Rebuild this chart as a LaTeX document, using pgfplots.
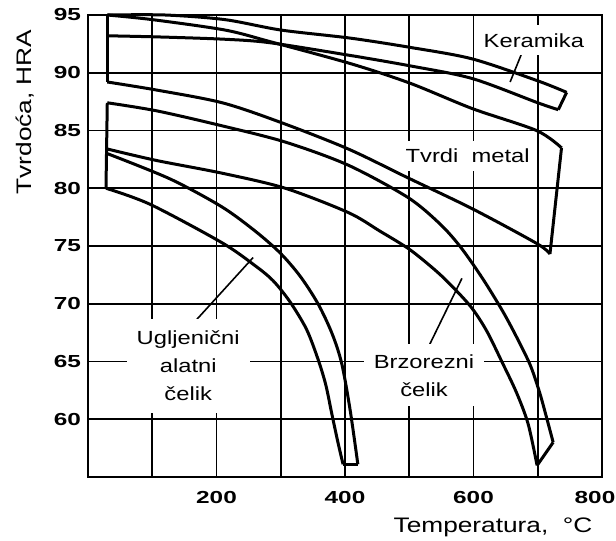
\documentclass[border=0pt]{standalone}
\usepackage{fontspec}
\setmainfont{Liberation Sans}[FakeStretch=1.25]
\newfontfamily\tickfont{Liberation Sans Bold}[FakeStretch=1.4]
\usepackage{pgfplots}
\pgfplotsset{compat=1.18}
\begin{document}
\begin{tikzpicture}
\path[use as bounding box] (0,0) rectangle (308pt,270.5pt);
\begin{axis}[
  at={(44pt,32pt)}, anchor=south west,
  scale only axis, width=257pt, height=231pt,
  xmin=0, xmax=800, ymin=55, ymax=95,
  xtick={0,100,...,800}, xticklabels={,,200,,400,,600,,\hspace*{-7pt}800},
  ytick={55,60,...,95}, yticklabels={,60,65,70,75,80,85,90,95},
  xmajorgrids=true, ymajorgrids=true,
  grid style={black, line width=0.9pt},
  axis line style={black, line width=1.1pt},
  tick style={black, line width=0.9pt},
  tick align=inside,
  tick label style={font=\tickfont\fontsize{8.7}{10}\selectfont},
  xticklabel style={yshift=-3.5pt},
  /pgf/number format/assume math mode=true,
  xlabel={Temperatura,\ \ °C},
  xlabel style={at={(axis description cs:0.982,-0.108)}, anchor=east, font=\fontsize{10.5}{12}\selectfont, inner sep=0pt},
  ylabel={Tvrdoća,\ HRA},
  ylabel style={at={(axis description cs:-0.122,0.79)}, anchor=center, font=\fontsize{10.5}{12}\selectfont, inner sep=0pt},
  clip=false,
]
% Keramika
\addplot[black, line width=1.5pt, smooth] coordinates {(30,95) (120,95) (213,94.6) (300,93.7) (408,93.0) (501,92.2) (598,91.2) (700,89.3) (745,88.3)};
\addplot[black, line width=1.5pt, smooth] coordinates {(30,93.2) (110,93.1) (213,92.9) (283,92.6) (408,91.5) (501,90.6) (598,89.5) (700,87.4) (732,86.8)};
\addplot[black, line width=1.5pt] coordinates {(745,88.3) (732,86.8)};
% Tvrdi metal
\addplot[black, line width=1.5pt, smooth] coordinates {(30,95) (100,94.6) (213,93.7) (283,92.7) (408,90.8) (501,89.1) (598,86.9) (698,85.0) (737,83.5)};
\addplot[black, line width=1.5pt, smooth] coordinates {(30,89.2) (107,88.5) (209,87.4) (300,85.7) (405,83.4) (498,80.9) (599,78.2) (699,75.2) (719,74.3)};
\addplot[black, line width=1.5pt] coordinates {(737,83.5) (719,74.3)};
\addplot[black, line width=1.5pt] coordinates {(30,95) (30,89.2)};
% Brzorezni celik
\addplot[black, line width=1.5pt, smooth] coordinates {(30,87.4) (107,86.7) (209,85.4) (307,84.0) (405,82.0) (498,79.2) (548,76.9) (580,74.9) (614,72.2) (646,69.3) (670,66.8) (689,64.6) (703,62.3) (713,60.3) (724,58.0)};
\addplot[black, line width=1.5pt, smooth] coordinates {(30,83.4) (107,82.4) (209,81.3) (307,80.0) (405,77.9) (454,76.3) (498,74.8) (530,73.4) (558,72.0) (595,69.8) (620,67.7) (644,65.0) (667,62.3) (685,59.6) (699,56.0)};
\addplot[black, line width=1.5pt] coordinates {(699,56.0) (724,58.0)};
\addplot[black, line width=1.5pt] coordinates {(30,87.4) (28,80.0)};
% Ugljenicni alatni celik
\addplot[black, line width=1.5pt, smooth] coordinates {(30,83.0) (128,80.8) (208,78.4) (260,76.3) (299,74.4) (330,72.4) (358,70.0) (380,67.4) (395,64.8) (408,60.8) (420,56.1)};
\addplot[black, line width=1.5pt, smooth] coordinates {(28,80.0) (97,78.6) (208,75.3) (260,73.3) (288,72.0) (314,70.2) (340,67.8) (358,65.2) (370,63.0) (379,60.6) (389,58.0) (397,56.1)};
\addplot[black, line width=1.5pt] coordinates {(397,56.1) (420,56.1)};
% pointers
\addplot[black, line width=0.8pt] coordinates {(676,91.8) (657,89.2)};
\addplot[black, line width=0.8pt] coordinates {(167,68.5) (257,74.0)};
\addplot[black, line width=0.8pt] coordinates {(532,66.5) (582,72.2)};
% labels
\node[fill=white, inner xsep=2pt, inner ysep=4pt, font=\fontsize{9.5}{11}\selectfont] at (axis cs:694,92.8) {Keramika};
\node[fill=white, inner xsep=3pt, inner ysep=4pt, font=\fontsize{9.5}{11}\selectfont] at (axis cs:591,82.8) {Tvrdi\ \ metal};
\node[fill=white, inner xsep=5pt, inner ysep=6pt, align=center, font=\fontsize{9.5}{14}\selectfont] at (axis cs:156,64.6) {Ugljenični\\alatni\\čelik};
\node[fill=white, inner xsep=5pt, inner ysep=5pt, align=center, font=\fontsize{9.5}{14}\selectfont] at (axis cs:523,63.8) {Brzorezni\\čelik};
\end{axis}
\end{tikzpicture}
\end{document}
